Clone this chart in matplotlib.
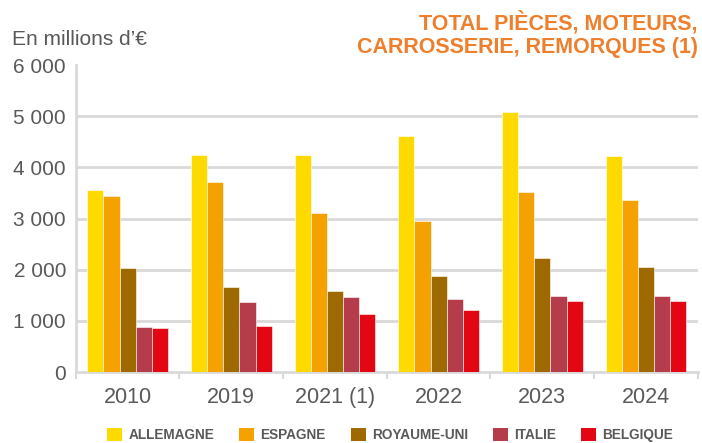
import numpy as np
import matplotlib.pyplot as plt
from matplotlib.patches import Patch

plt.rcParams['font.family'] = ['Liberation Sans', 'DejaVu Sans']

years = ["2010", "2019", "2021 (1)", "2022", "2023", "2024"]
countries = ["ALLEMAGNE", "ESPAGNE", "ROYAUME-UNI", "ITALIE", "BELGIQUE"]
allemagne = [3550, 4250, 4250, 4620, 5090, 4220]
espagne = [3440, 3720, 3110, 2960, 3520, 3370]
royaume_uni = [2040, 1660, 1580, 1880, 2240, 2060]
italie = [880, 1370, 1470, 1430, 1490, 1490]
belgique = [860, 900, 1130, 1220, 1390, 1390]
colors = ["#FFDA00", "#F5A200", "#9E6A00", "#B43C4B", "#E30613"]
yticks = [0, 1000, 2000, 3000, 4000, 5000, 6000]
ytick_labels = ["0", "1 000", "2 000", "3 000", "4 000", "5 000", "6 000"]

series = [allemagne, espagne, royaume_uni, italie, belgique]
grey = "#595959"

fig = plt.figure(figsize=(7.02, 4.43), dpi=100)
ax = fig.add_axes([0.108, 0.160, 0.886, 0.693])

x = np.arange(len(years))
w = 0.156
for i, vals in enumerate(series):
    ax.bar(x + (i - 2) * w, vals, width=w, color=colors[i],
           edgecolor="white", linewidth=0.4, zorder=3)

for v in yticks[1:-1]:
    ax.axhline(v, color="#d9d9d9", linewidth=2, zorder=1)

ax.set_xlim(-0.5, len(years) - 0.5)
ax.set_ylim(0, 6000)
ax.set_yticks(yticks)
ax.set_yticklabels(ytick_labels, fontsize=15, color=grey)
ax.tick_params(axis="y", length=0, pad=7)

ax.set_xticks(x)
ax.set_xticklabels(years, fontsize=15.5, color=grey)
ax.tick_params(axis="x", length=0, pad=11)
ax.set_xticks(np.arange(len(years) + 1) - 0.5, minor=True)
ax.tick_params(axis="x", which="minor", length=5, width=1.5, color="#d9d9d9")

for s in ["top", "right"]:
    ax.spines[s].set_visible(False)
for s in ["left", "bottom"]:
    ax.spines[s].set_color("#d9d9d9")
    ax.spines[s].set_linewidth(2)

fig.text(0.017, 0.910, "En millions d\u2019\u20ac", fontsize=15, color=grey,
         ha="left", va="center")
fig.text(0.994, 0.922, "TOTAL PI\u00c8CES, MOTEURS,\nCARROSSERIE, REMORQUES (1)",
         fontsize=15.5, color="#EE7F2D", fontweight="bold", ha="right",
         va="center", linespacing=1.16)

handles = [Patch(facecolor=c) for c in colors]
fig.legend(handles, countries, loc="center", bbox_to_anchor=(0.556, 0.018),
           ncol=5, frameon=False, prop={"size": 9.8, "weight": "bold"},
           labelcolor=grey, handlelength=1.1, handleheight=1.1,
           columnspacing=1.85, handletextpad=0.45)

fig.savefig("out.png", dpi=100)
